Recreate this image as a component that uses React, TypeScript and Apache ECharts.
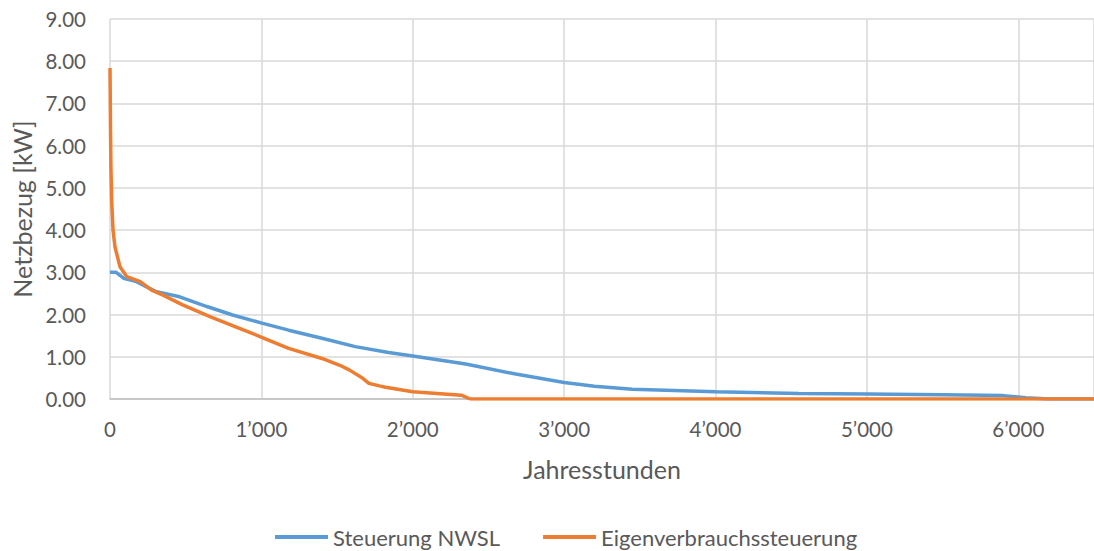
import React, { useEffect, useRef } from "react";
import * as echarts from "echarts";

const nwslHours = [0, 40, 90, 175, 300, 460, 640, 810, 1010, 1180, 1400, 1620, 1840, 2000, 2350, 2680, 3000, 3200, 3450, 4000, 4550, 5000, 5500, 5900, 6050, 6200, 6500];
const nwslValues = [3.0, 3.0, 2.86, 2.78, 2.55, 2.42, 2.19, 1.99, 1.79, 1.63, 1.44, 1.24, 1.1, 1.02, 0.83, 0.59, 0.39, 0.3, 0.23, 0.17, 0.13, 0.12, 0.1, 0.08, 0.03, 0.0, 0.0];

const evHours = [0, 3, 6, 11, 20, 33, 66, 110, 200, 275, 350, 480, 660, 830, 990, 1180, 1400, 1535, 1580, 1670, 1710, 1780, 1820, 2000, 2320, 2380, 6500];
const evValues = [7.84, 6.5, 5.5, 4.7, 4.0, 3.6, 3.13, 2.9, 2.78, 2.58, 2.46, 2.23, 1.95, 1.71, 1.48, 1.2, 0.96, 0.77, 0.69, 0.49, 0.37, 0.31, 0.28, 0.17, 0.09, 0.0, 0.0];

const seriesNames = ["Steuerung NWSL", "Eigenverbrauchssteuerung"];
const xTitle = "Jahresstunden";
const yTitle = "Netzbezug [kW]";

const FONT = "Lato";
const TEXT = "#595959";

export default function App() {
  const ref = useRef<HTMLDivElement>(null);
  useEffect(() => {
    if (!ref.current) return;
    const chart = echarts.init(ref.current, null, { renderer: "svg" });
    chart.setOption({
      animation: false,
      textStyle: { fontFamily: FONT },
      grid: { left: 110, top: 19, right: -4, bottom: 152, containLabel: false },
      legend: {
        top: 526,
        left: 275,
        padding: 0,
        icon: "rect",
        itemWidth: 53,
        itemHeight: 4,
        itemGap: 43,
        textStyle: { fontFamily: FONT, fontSize: 22, color: TEXT },
        data: seriesNames,
      },
      xAxis: {
        type: "value",
        min: 0,
        max: 6500,
        interval: 1000,
        name: xTitle,
        nameLocation: "middle",
        nameGap: 57,
        nameTextStyle: { fontFamily: FONT, fontSize: 25, color: TEXT },
        axisLine: { show: true, lineStyle: { color: "#BFBFBF", width: 1.5 } },
        axisTick: { show: false },
        axisLabel: {
          fontFamily: FONT,
          fontSize: 20.5,
          color: TEXT,
          margin: 19,
          showMaxLabel: false,
          formatter: (v: number) => {
            if (v % 1000 !== 0) return "";
            if (v === 0) return "0";
            const s = String(v);
            return s.slice(0, s.length - 3) + "\u2019" + s.slice(s.length - 3);
          },
        },
        splitLine: { show: true, lineStyle: { color: "#D9D9D9", width: 1.5 } },
      },
      yAxis: {
        type: "value",
        min: 0,
        max: 9,
        interval: 1,
        name: yTitle,
        nameLocation: "middle",
        nameGap: 76,
        nameTextStyle: { fontFamily: FONT, fontSize: 25, color: TEXT },
        axisLine: { show: false },
        axisTick: { show: false },
        axisLabel: {
          fontFamily: FONT,
          fontSize: 20.5,
          color: TEXT,
          margin: 24,
          formatter: (v: number) => v.toFixed(2),
        },
        splitLine: { show: true, lineStyle: { color: "#D9D9D9", width: 1.5 } },
      },
      series: [
        {
          name: seriesNames[0],
          type: "line",
          showSymbol: false,
          symbol: "none",
          data: nwslHours.map((h, i) => [h, nwslValues[i]]),
          lineStyle: { color: "#5B9BD5", width: 3.5 },
          itemStyle: { color: "#5B9BD5" },
        },
        {
          name: seriesNames[1],
          type: "line",
          showSymbol: false,
          symbol: "none",
          data: evHours.map((h, i) => [h, evValues[i]]),
          lineStyle: { color: "#ED7D31", width: 3.5 },
          itemStyle: { color: "#ED7D31" },
        },
      ],
    });
    return () => chart.dispose();
  }, []);
  return <div ref={ref} style={{ width: 1094, height: 551, position: "absolute", left: 0, top: 0 }} />;
}
